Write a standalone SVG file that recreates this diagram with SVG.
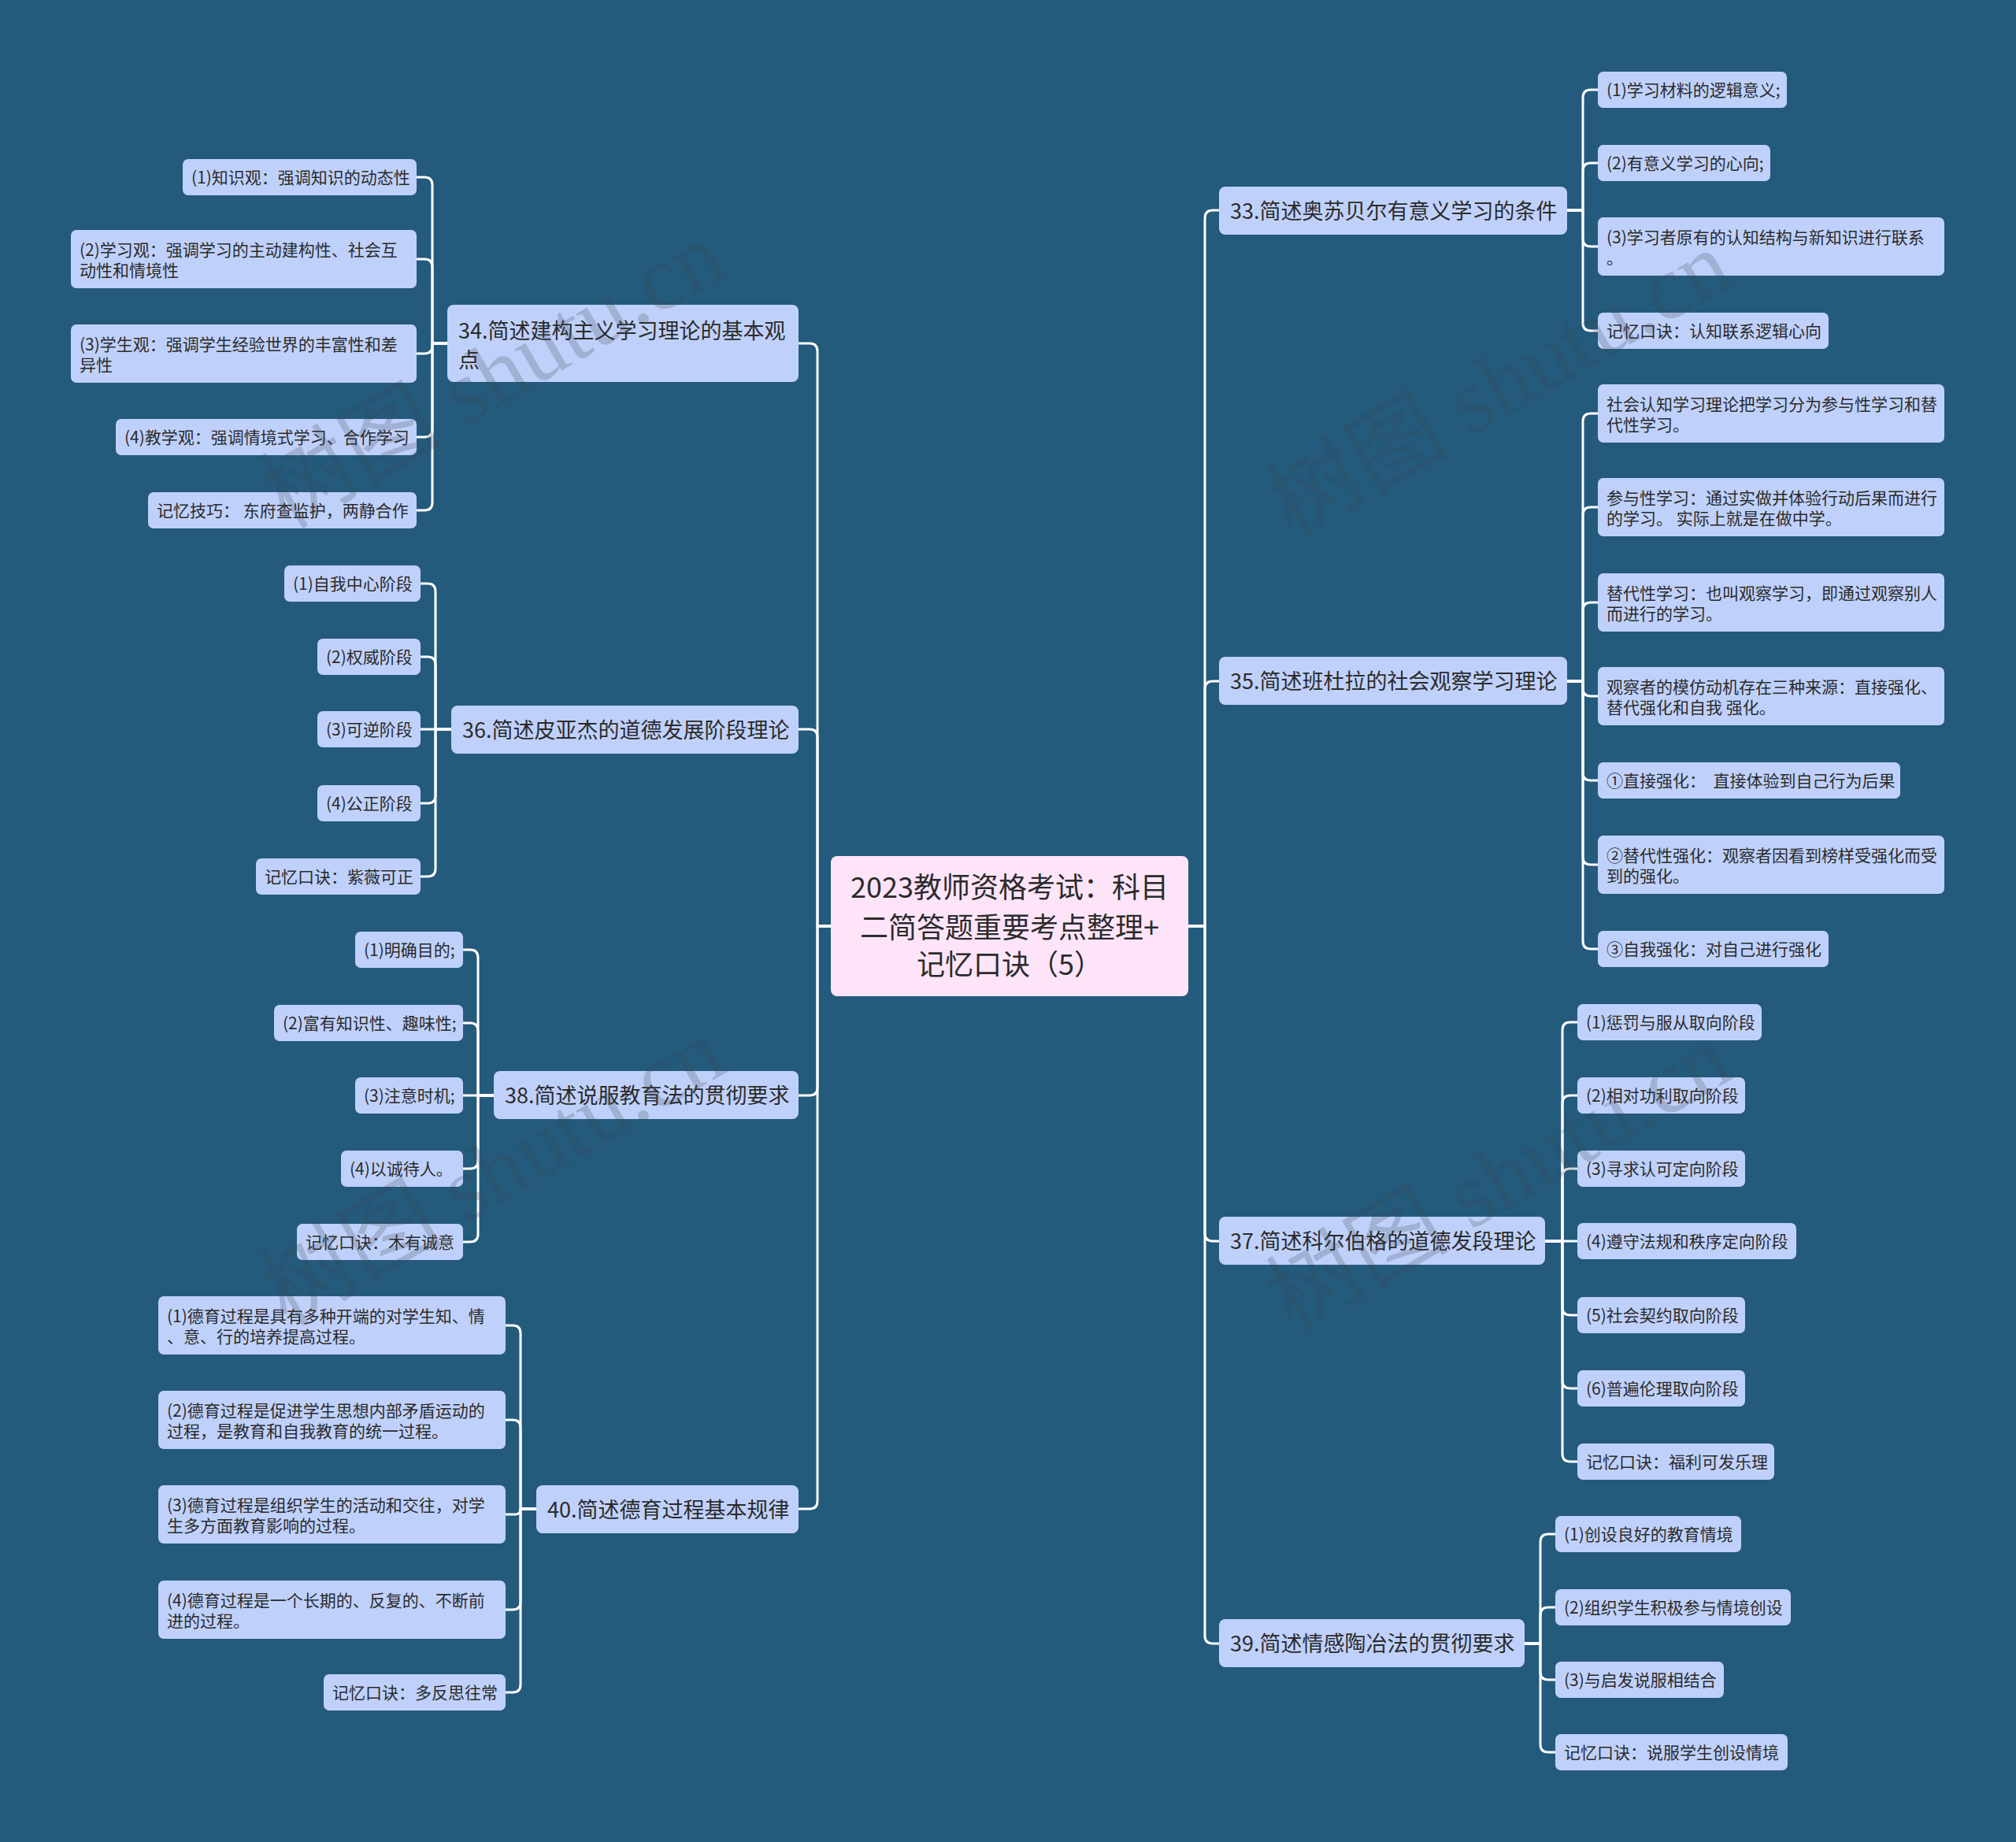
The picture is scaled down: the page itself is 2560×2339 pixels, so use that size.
<svg xmlns="http://www.w3.org/2000/svg" width="2560" height="2339" viewBox="0 0 2560 2339">
<style>
.bg{fill:#245a7c}
.root rect{fill:#fde4f8}
.l1 rect{fill:#bfd1fb}
.l2 rect{fill:#bfd1fb}
text{font-family:"Noto Sans CJK SC","Liberation Sans",sans-serif;fill:#2b2b2b}
.root text{font-size:36px;text-anchor:middle}
.l1 text{font-size:27px}
.l2 text{font-size:21px}
#connectors path{fill:none;stroke:#ffffff;stroke-width:3;stroke-linecap:round;stroke-linejoin:round}
.wm{font-family:"Liberation Serif","Noto Sans CJK SC",serif;font-size:116px;fill:#3a4450;opacity:0.22;text-anchor:middle}
</style>
<rect class="bg" x="0" y="0" width="2560" height="2339"/>

<g id="connectors">
<!-- root right -->
<path d="M1509,1176 H1530 V277 Q1530,267 1540,267 H1548"/>
<path d="M1509,1176 H1530 V875 Q1530,865 1540,865 H1548"/>
<path d="M1509,1176 H1530 V1566 Q1530,1576 1540,1576 H1548"/>
<path d="M1509,1176 H1530 V2077 Q1530,2087 1540,2087 H1548"/>
<!-- root left -->
<path d="M1055,1176 H1038 V446 Q1038,436 1028,436 H1014"/>
<path d="M1055,1176 H1038 V936 Q1038,926 1028,926 H1014"/>
<path d="M1055,1176 H1038 V1381 Q1038,1391 1028,1391 H1014"/>
<path d="M1055,1176 H1038 V1906 Q1038,1916 1028,1916 H1014"/>
<!-- 34 -->
<path d="M568,436 H549 V235 Q549,225 539,225 H529"/>
<path d="M568,436 H549 V339 Q549,329 539,329 H529"/>
<path d="M568,436 H549 V439 Q549,449 539,449 H529"/>
<path d="M568,436 H549 V545 Q549,555 539,555 H529"/>
<path d="M568,436 H549 V638 Q549,648 539,648 H529"/>
<!-- 36 -->
<path d="M573,926 H553 V751 Q553,741 543,741 H534"/>
<path d="M573,926 H553 V844 Q553,834 543,834 H534"/>
<path d="M573,926 H534"/>
<path d="M573,926 H553 V1010 Q553,1020 543,1020 H534"/>
<path d="M573,926 H553 V1103 Q553,1113 543,1113 H534"/>
<!-- 38 -->
<path d="M627,1391 H607 V1216 Q607,1206 597,1206 H588"/>
<path d="M627,1391 H607 V1309 Q607,1299 597,1299 H588"/>
<path d="M627,1391 H588"/>
<path d="M627,1391 H607 V1474 Q607,1484 597,1484 H588"/>
<path d="M627,1391 H607 V1567 Q607,1577 597,1577 H588"/>
<!-- 40 -->
<path d="M681,1916 H661 V1693 Q661,1683 651,1683 H642"/>
<path d="M681,1916 H661 V1813 Q661,1803 651,1803 H642"/>
<path d="M681,1916 H661 Q661,1923 654,1923 H642"/>
<path d="M681,1916 H661 V2034 Q661,2044 651,2044 H642"/>
<path d="M681,1916 H661 V2139 Q661,2149 651,2149 H642"/>
<!-- 33 -->
<path d="M1990,267 H2010 V124 Q2010,114 2020,114 H2029"/>
<path d="M1990,267 H2010 V217 Q2010,207 2020,207 H2029"/>
<path d="M1990,267 H2010 V303 Q2010,313 2020,313 H2029"/>
<path d="M1990,267 H2010 V410 Q2010,420 2020,420 H2029"/>
<!-- 35 -->
<path d="M1990,865 H2010 V535 Q2010,525 2020,525 H2029"/>
<path d="M1990,865 H2010 V654 Q2010,644 2020,644 H2029"/>
<path d="M1990,865 H2010 V775 Q2010,765 2020,765 H2029"/>
<path d="M1990,865 H2010 V874 Q2010,884 2020,884 H2029"/>
<path d="M1990,865 H2010 V981 Q2010,991 2020,991 H2029"/>
<path d="M1990,865 H2010 V1088 Q2010,1098 2020,1098 H2029"/>
<path d="M1990,865 H2010 V1195 Q2010,1205 2020,1205 H2029"/>
<!-- 37 -->
<path d="M1962,1576 H1984 V1308 Q1984,1298 1994,1298 H2003"/>
<path d="M1962,1576 H1984 V1401 Q1984,1391 1994,1391 H2003"/>
<path d="M1962,1576 H1984 V1494 Q1984,1484 1994,1484 H2003"/>
<path d="M1962,1576 H2003"/>
<path d="M1962,1576 H1984 V1660 Q1984,1670 1994,1670 H2003"/>
<path d="M1962,1576 H1984 V1753 Q1984,1763 1994,1763 H2003"/>
<path d="M1962,1576 H1984 V1846 Q1984,1856 1994,1856 H2003"/>
<!-- 39 -->
<path d="M1936,2087 H1956 V1958 Q1956,1948 1966,1948 H1975"/>
<path d="M1936,2087 H1956 V2051 Q1956,2041 1966,2041 H1975"/>
<path d="M1936,2087 H1956 V2123 Q1956,2133 1966,2133 H1975"/>
<path d="M1936,2087 H1956 V2215 Q1956,2225 1966,2225 H1975"/>
</g>

<g id="root" class="root">
<rect x="1055" y="1087" width="454" height="178" rx="8"/>
<text x="1282" y="1140">2023教师资格考试：科目</text>
<text x="1282" y="1191">二简答题重要考点整理+</text>
<text x="1282" y="1238">记忆口诀（5）</text>
</g>

<!-- Level 1 -->
<g id="n34" class="l1"><rect x="568" y="387" width="446" height="98" rx="8"/><text x="582" y="430">34.简述建构主义学习理论的基本观</text><text x="582" y="467">点</text></g>
<g id="n36" class="l1"><rect x="573" y="896" width="441" height="61" rx="8"/><text x="587" y="936.5">36.简述皮亚杰的道德发展阶段理论</text></g>
<g id="n38" class="l1"><rect x="627" y="1360" width="387" height="61" rx="8"/><text x="641" y="1400.5">38.简述说服教育法的贯彻要求</text></g>
<g id="n40" class="l1"><rect x="681" y="1886" width="333" height="61" rx="8"/><text x="695" y="1926.5">40.简述德育过程基本规律</text></g>
<g id="n33" class="l1"><rect x="1548" y="237" width="442" height="61" rx="8"/><text x="1562" y="277.5">33.简述奥苏贝尔有意义学习的条件</text></g>
<g id="n35" class="l1"><rect x="1548" y="834" width="442" height="61" rx="8"/><text x="1562" y="874.5">35.简述班杜拉的社会观察学习理论</text></g>
<g id="n37" class="l1"><rect x="1548" y="1545" width="414" height="61" rx="8"/><text x="1562" y="1585.5">37.简述科尔伯格的道德发段理论</text></g>
<g id="n39" class="l1"><rect x="1548" y="2056" width="388" height="61" rx="8"/><text x="1562" y="2096.5">39.简述情感陶冶法的贯彻要求</text></g>

<!-- 34 children -->
<g id="n34-1" class="l2"><rect x="232" y="202" width="297" height="46" rx="7"/><text x="243" y="232.5">(1)知识观：强调知识的动态性</text></g>
<g id="n34-2" class="l2"><rect x="90" y="292" width="439" height="74" rx="7"/><text x="101" y="324.5">(2)学习观：强调学习的主动建构性、社会互</text><text x="101" y="350.5">动性和情境性</text></g>
<g id="n34-3" class="l2"><rect x="90" y="412" width="439" height="74" rx="7"/><text x="101" y="444.5">(3)学生观：强调学生经验世界的丰富性和差</text><text x="101" y="470.5">异性</text></g>
<g id="n34-4" class="l2"><rect x="147" y="532" width="382" height="46" rx="7"/><text x="158" y="562.5">(4)教学观：强调情境式学习、合作学习</text></g>
<g id="n34-5" class="l2"><rect x="188" y="625" width="341" height="46" rx="7"/><text x="199" y="655.5" xml:space="preserve">记忆技巧： 东府查监护，两静合作</text></g>

<!-- 36 children -->
<g id="n36-1" class="l2"><rect x="361" y="718" width="173" height="46" rx="7"/><text x="372" y="748.5">(1)自我中心阶段</text></g>
<g id="n36-2" class="l2"><rect x="403" y="811" width="131" height="46" rx="7"/><text x="414" y="841.5">(2)权威阶段</text></g>
<g id="n36-3" class="l2"><rect x="403" y="903" width="131" height="46" rx="7"/><text x="414" y="933.5">(3)可逆阶段</text></g>
<g id="n36-4" class="l2"><rect x="403" y="997" width="131" height="46" rx="7"/><text x="414" y="1027.5">(4)公正阶段</text></g>
<g id="n36-5" class="l2"><rect x="325" y="1090" width="209" height="46" rx="7"/><text x="336" y="1120.5">记忆口诀：紫薇可正</text></g>

<!-- 38 children -->
<g id="n38-1" class="l2"><rect x="451" y="1183" width="137" height="46" rx="7"/><text x="462" y="1213.5">(1)明确目的;</text></g>
<g id="n38-2" class="l2"><rect x="348" y="1276" width="240" height="46" rx="7"/><text x="359" y="1306.5">(2)富有知识性、趣味性;</text></g>
<g id="n38-3" class="l2"><rect x="451" y="1368" width="137" height="46" rx="7"/><text x="462" y="1398.5">(3)注意时机;</text></g>
<g id="n38-4" class="l2"><rect x="433" y="1461" width="155" height="46" rx="7"/><text x="444" y="1491.5">(4)以诚待人。</text></g>
<g id="n38-5" class="l2"><rect x="377" y="1554" width="211" height="46" rx="7"/><text x="388" y="1584.5">记忆口诀：木有诚意</text></g>

<!-- 40 children -->
<g id="n40-1" class="l2"><rect x="201" y="1646" width="441" height="74" rx="7"/><text x="212" y="1678.5">(1)德育过程是具有多种开端的对学生知、情</text><text x="212" y="1704.5">、意、行的培养提高过程。</text></g>
<g id="n40-2" class="l2"><rect x="201" y="1766" width="441" height="74" rx="7"/><text x="212" y="1798.5">(2)德育过程是促进学生思想内部矛盾运动的</text><text x="212" y="1824.5">过程，是教育和自我教育的统一过程。</text></g>
<g id="n40-3" class="l2"><rect x="201" y="1886" width="441" height="74" rx="7"/><text x="212" y="1918.5">(3)德育过程是组织学生的活动和交往，对学</text><text x="212" y="1944.5">生多方面教育影响的过程。</text></g>
<g id="n40-4" class="l2"><rect x="201" y="2007" width="441" height="74" rx="7"/><text x="212" y="2039.5">(4)德育过程是一个长期的、反复的、不断前</text><text x="212" y="2065.5">进的过程。</text></g>
<g id="n40-5" class="l2"><rect x="411" y="2126" width="231" height="46" rx="7"/><text x="422" y="2156.5">记忆口诀：多反思往常</text></g>

<!-- 33 children -->
<g id="n33-1" class="l2"><rect x="2029" y="91" width="240" height="46" rx="7"/><text x="2040" y="121.5">(1)学习材料的逻辑意义;</text></g>
<g id="n33-2" class="l2"><rect x="2029" y="184" width="219" height="46" rx="7"/><text x="2040" y="214.5">(2)有意义学习的心向;</text></g>
<g id="n33-3" class="l2"><rect x="2029" y="276" width="440" height="74" rx="7"/><text x="2040" y="308.5">(3)学习者原有的认知结构与新知识进行联系</text><text x="2040" y="334.5">。</text></g>
<g id="n33-4" class="l2"><rect x="2029" y="397" width="293" height="46" rx="7"/><text x="2040" y="427.5">记忆口诀：认知联系逻辑心向</text></g>

<!-- 35 children -->
<g id="n35-1" class="l2"><rect x="2029" y="488" width="440" height="74" rx="7"/><text x="2040" y="520.5">社会认知学习理论把学习分为参与性学习和替</text><text x="2040" y="546.5">代性学习。</text></g>
<g id="n35-2" class="l2"><rect x="2029" y="607" width="440" height="74" rx="7"/><text x="2040" y="639.5">参与性学习：通过实做并体验行动后果而进行</text><text x="2040" y="665.5" xml:space="preserve">的学习。 实际上就是在做中学。</text></g>
<g id="n35-3" class="l2"><rect x="2029" y="728" width="440" height="74" rx="7"/><text x="2040" y="760.5">替代性学习：也叫观察学习，即通过观察别人</text><text x="2040" y="786.5">而进行的学习。</text></g>
<g id="n35-4" class="l2"><rect x="2029" y="847" width="440" height="74" rx="7"/><text x="2040" y="879.5">观察者的模仿动机存在三种来源：直接强化、</text><text x="2040" y="905.5" xml:space="preserve">替代强化和自我 强化。</text></g>
<g id="n35-5" class="l2"><rect x="2029" y="968" width="384" height="46" rx="7"/><text x="2040" y="998.5" xml:space="preserve">①直接强化：  直接体验到自己行为后果</text></g>
<g id="n35-6" class="l2"><rect x="2029" y="1061" width="440" height="74" rx="7"/><text x="2040" y="1093.5">②替代性强化：观察者因看到榜样受强化而受</text><text x="2040" y="1119.5">到的强化。</text></g>
<g id="n35-7" class="l2"><rect x="2029" y="1182" width="293" height="46" rx="7"/><text x="2040" y="1212.5">③自我强化：对自己进行强化</text></g>

<!-- 37 children -->
<g id="n37-1" class="l2"><rect x="2003" y="1275" width="234" height="46" rx="7"/><text x="2014" y="1305.5">(1)惩罚与服从取向阶段</text></g>
<g id="n37-2" class="l2"><rect x="2003" y="1368" width="213" height="46" rx="7"/><text x="2014" y="1398.5">(2)相对功利取向阶段</text></g>
<g id="n37-3" class="l2"><rect x="2003" y="1461" width="213" height="46" rx="7"/><text x="2014" y="1491.5">(3)寻求认可定向阶段</text></g>
<g id="n37-4" class="l2"><rect x="2003" y="1553" width="278" height="46" rx="7"/><text x="2014" y="1583.5">(4)遵守法规和秩序定向阶段</text></g>
<g id="n37-5" class="l2"><rect x="2003" y="1647" width="213" height="46" rx="7"/><text x="2014" y="1677.5">(5)社会契约取向阶段</text></g>
<g id="n37-6" class="l2"><rect x="2003" y="1740" width="213" height="46" rx="7"/><text x="2014" y="1770.5">(6)普遍伦理取向阶段</text></g>
<g id="n37-7" class="l2"><rect x="2003" y="1833" width="250" height="46" rx="7"/><text x="2014" y="1863.5">记忆口诀：福利可发乐理</text></g>

<!-- 39 children -->
<g id="n39-1" class="l2"><rect x="1975" y="1925" width="236" height="46" rx="7"/><text x="1986" y="1955.5">(1)创设良好的教育情境</text></g>
<g id="n39-2" class="l2"><rect x="1975" y="2018" width="299" height="46" rx="7"/><text x="1986" y="2048.5">(2)组织学生积极参与情境创设</text></g>
<g id="n39-3" class="l2"><rect x="1975" y="2110" width="214" height="46" rx="7"/><text x="1986" y="2140.5">(3)与启发说服相结合</text></g>
<g id="n39-4" class="l2"><rect x="1975" y="2202" width="295" height="46" rx="7"/><text x="1986" y="2232.5">记忆口诀：说服学生创设情境</text></g>

<g id="watermarks">
<text class="wm" transform="translate(645,510) rotate(-30)">树图 shutu.cn</text>
<text class="wm" transform="translate(645,1522) rotate(-30)">树图 shutu.cn</text>
<text class="wm" transform="translate(1923,522) rotate(-30)">树图 shutu.cn</text>
<text class="wm" transform="translate(1923,1530) rotate(-30)">树图 shutu.cn</text>
</g>
</svg>
